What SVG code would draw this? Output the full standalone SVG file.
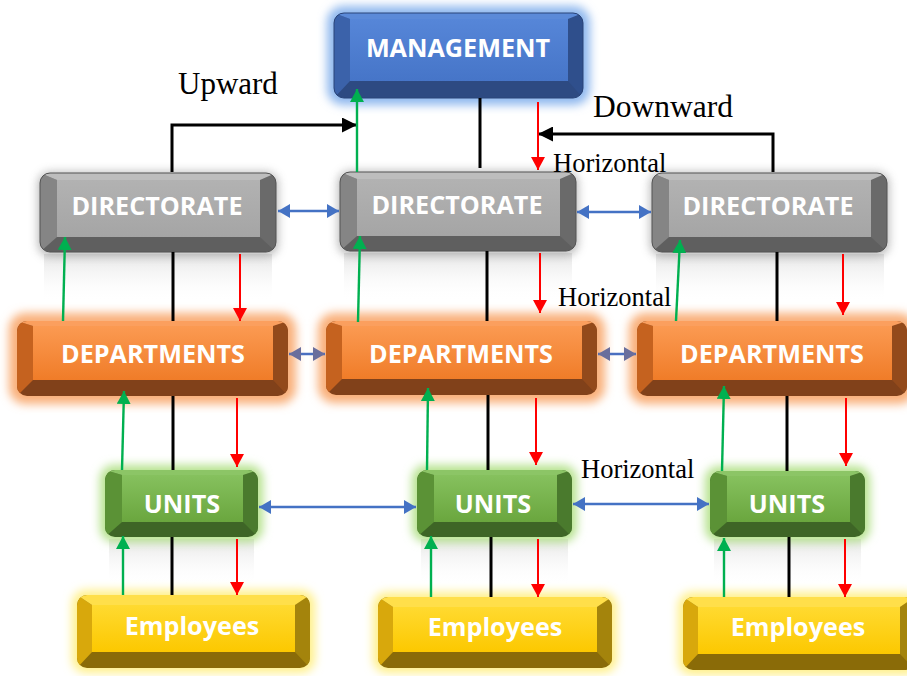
<svg xmlns="http://www.w3.org/2000/svg" width="907" height="676" viewBox="0 0 907 676">
<defs>
<style>
.lbl{font-family:"Open Sans","Liberation Sans",Arial,sans-serif;font-weight:bold;font-size:25.2px;fill:#ffffff;text-anchor:middle}
.cap{font-family:"Liberation Serif","Times New Roman",serif;fill:#000000}
.blk{stroke:#000;stroke-width:3;fill:none}
.grn{stroke:#00b050;stroke-width:2.4;fill:none;marker-end:url(#mg)}
.red{stroke:#ff0000;stroke-width:2;fill:none;marker-end:url(#mr)}
.blu{stroke:#4472c4;stroke-width:2.5;fill:none;marker-start:url(#mb);marker-end:url(#mb)}
.blu2{stroke:#4a6fc0;stroke-width:2.5;fill:none;marker-start:url(#mp);marker-end:url(#mp)}
.glow{filter:url(#blur)}
</style>
<filter id="blur" x="-20%" y="-40%" width="140%" height="180%"><feGaussianBlur stdDeviation="5"/></filter>
<clipPath id="cM" clipPathUnits="objectBoundingBox"><rect x="0" y="0" width="1" height="1" rx="0.04" ry="0.118"/></clipPath>
<clipPath id="cD" clipPathUnits="objectBoundingBox"><rect x="0" y="0" width="1" height="1" rx="0.042" ry="0.127"/></clipPath>
<clipPath id="cP" clipPathUnits="objectBoundingBox"><rect x="0" y="0" width="1" height="1" rx="0.037" ry="0.133"/></clipPath>
<clipPath id="cU" clipPathUnits="objectBoundingBox"><rect x="0" y="0" width="1" height="1" rx="0.065" ry="0.15"/></clipPath>
<clipPath id="cE" clipPathUnits="objectBoundingBox"><rect x="0" y="0" width="1" height="1" rx="0.043" ry="0.14"/></clipPath>
<linearGradient id="gM" x1="0" y1="0" x2="0" y2="1"><stop offset="0" stop-color="#5686d8"/><stop offset="1" stop-color="#4675c8"/></linearGradient>
<linearGradient id="gD" x1="0" y1="0" x2="0" y2="1"><stop offset="0" stop-color="#b2b2b2"/><stop offset="1" stop-color="#a5a5a5"/></linearGradient>
<linearGradient id="gP" x1="0" y1="0" x2="0" y2="1"><stop offset="0" stop-color="#fb9a52"/><stop offset="1" stop-color="#f07c28"/></linearGradient>
<linearGradient id="gU" x1="0" y1="0" x2="0" y2="1"><stop offset="0" stop-color="#86c15e"/><stop offset="1" stop-color="#6aa63e"/></linearGradient>
<linearGradient id="gE" x1="0" y1="0" x2="0" y2="1"><stop offset="0" stop-color="#ffda30"/><stop offset="1" stop-color="#fcc800"/></linearGradient>
<linearGradient id="gR" x1="0" y1="0" x2="0" y2="1"><stop offset="0" stop-color="#d0d0d0" stop-opacity="0.55"/><stop offset="1" stop-color="#ffffff" stop-opacity="0"/></linearGradient>
<marker id="mg" markerUnits="userSpaceOnUse" markerWidth="13" markerHeight="14" refX="13" refY="7" orient="auto"><path d="M0,0 L13,7 L0,14 z" fill="#00b050"/></marker>
<marker id="mr" markerUnits="userSpaceOnUse" markerWidth="13" markerHeight="14" refX="13" refY="7" orient="auto"><path d="M0,0 L13,7 L0,14 z" fill="#ff0000"/></marker>
<marker id="mk" markerUnits="userSpaceOnUse" markerWidth="15" markerHeight="15" refX="15" refY="7.5" orient="auto"><path d="M0,0 L15,7.5 L0,15 z" fill="#000"/></marker>
<marker id="mb" markerUnits="userSpaceOnUse" markerWidth="12" markerHeight="14" refX="12" refY="7" orient="auto-start-reverse"><path d="M0,0 L12,7 L0,14 z" fill="#4472c4"/></marker>
<marker id="mp" markerUnits="userSpaceOnUse" markerWidth="12" markerHeight="14" refX="12" refY="7" orient="auto-start-reverse"><path d="M0,0 L12,7 L0,14 z" fill="#6a6e9c"/></marker>
</defs>
<rect width="907" height="676" fill="#ffffff"/>

<g id="reflections">
<rect x="44" y="254" width="228" height="48" fill="url(#gR)"/>
<rect x="344" y="253" width="228" height="48" fill="url(#gR)"/>
<rect x="656" y="254" width="228" height="48" fill="url(#gR)"/>
<rect x="109" y="539" width="145" height="46" fill="url(#gR)"/>
<rect x="421" y="539" width="147" height="46" fill="url(#gR)"/>
<rect x="714" y="539" width="147" height="46" fill="url(#gR)"/>
</g>

<g id="management">
<rect class="glow" x="327" y="6" width="263" height="99" rx="16" fill="#8fb8ee"/>
<g clip-path="url(#cM)">
<rect x="334" y="13" width="249" height="85" fill="#2d4a82"/>
<polygon points="334,13 350,19 350,81 334,98" fill="#3b62aa"/>
<polygon points="583,13 568,19 568,81 583,98" fill="#2f4f8c"/>
<polygon points="334,13 583,13 568,19 350,19" fill="#5b8ad8"/>
<rect x="350" y="19" width="218" height="62" fill="url(#gM)"/>
</g>
<rect x="334" y="13" width="249" height="85" rx="10" fill="none" stroke="#2a4478" stroke-width="1"/>
<text class="lbl" x="458" y="57">MANAGEMENT</text>
</g>

<g id="dir1">
<rect class="glow" x="38" y="172" width="240" height="84" rx="12" fill="#9a9a9a" opacity="0.7"/>
<g clip-path="url(#cD)">
<rect x="40" y="173" width="236" height="79" fill="#5f5f5f"/>
<polygon points="40,173 57,180 57,237 40,252" fill="#858585"/>
<polygon points="276,173 260,180 260,237 276,252" fill="#6a6a6a"/>
<polygon points="40,173 276,173 260,180 57,180" fill="#bdbdbd"/>
<rect x="57" y="180" width="203" height="57" fill="url(#gD)"/>
</g>
<rect x="40" y="173" width="236" height="79" rx="10" fill="none" stroke="#555" stroke-width="1"/>
<text class="lbl" x="157" y="215">DIRECTORATE</text>
</g>

<g id="dir2">
<rect class="glow" x="338" y="171" width="240" height="84" rx="12" fill="#9a9a9a" opacity="0.7"/>
<g clip-path="url(#cD)">
<rect x="340" y="172" width="236" height="79" fill="#5f5f5f"/>
<polygon points="340,172 357,179 357,236 340,251" fill="#858585"/>
<polygon points="576,172 560,179 560,236 576,251" fill="#6a6a6a"/>
<polygon points="340,172 576,172 560,179 357,179" fill="#bdbdbd"/>
<rect x="357" y="179" width="203" height="57" fill="url(#gD)"/>
</g>
<rect x="340" y="172" width="236" height="79" rx="10" fill="none" stroke="#555" stroke-width="1"/>
<text class="lbl" x="457" y="214">DIRECTORATE</text>
</g>

<g id="dir3">
<rect class="glow" x="650" y="172" width="239" height="84" rx="12" fill="#9a9a9a" opacity="0.7"/>
<g clip-path="url(#cD)">
<rect x="652" y="173" width="235" height="79" fill="#5f5f5f"/>
<polygon points="652,173 669,180 669,237 652,252" fill="#858585"/>
<polygon points="887,173 871,180 871,237 887,252" fill="#6a6a6a"/>
<polygon points="652,173 887,173 871,180 669,180" fill="#bdbdbd"/>
<rect x="669" y="180" width="202" height="57" fill="url(#gD)"/>
</g>
<rect x="652" y="173" width="235" height="79" rx="10" fill="none" stroke="#555" stroke-width="1"/>
<text class="lbl" x="768" y="215">DIRECTORATE</text>
</g>

<g id="dept1">
<rect class="glow" x="9" y="313" width="287" height="91" rx="16" fill="#f9b07a"/>
<g clip-path="url(#cP)">
<rect x="17" y="321" width="271" height="75" fill="#81411a"/>
<polygon points="17,321 33,326 33,380 17,396" fill="#c5621f"/>
<polygon points="288,321 273,326 273,380 288,396" fill="#934a1b"/>
<polygon points="17,321 288,321 273,326 33,326" fill="#fb9f5e"/>
<rect x="33" y="326" width="240" height="54" fill="url(#gP)"/>
</g>
<text class="lbl" x="153" y="363">DEPARTMENTS</text>
</g>

<g id="dept2">
<rect class="glow" x="318" y="313" width="287" height="90" rx="16" fill="#f9b07a"/>
<g clip-path="url(#cP)">
<rect x="326" y="321" width="271" height="74" fill="#81411a"/>
<polygon points="326,321 342,326 342,379 326,395" fill="#c5621f"/>
<polygon points="597,321 582,326 582,379 597,395" fill="#934a1b"/>
<polygon points="326,321 597,321 582,326 342,326" fill="#fb9f5e"/>
<rect x="342" y="326" width="240" height="53" fill="url(#gP)"/>
</g>
<text class="lbl" x="461" y="363">DEPARTMENTS</text>
</g>

<g id="dept3">
<rect class="glow" x="629" y="313" width="286" height="91" rx="16" fill="#f9b07a"/>
<g clip-path="url(#cP)">
<rect x="637" y="321" width="270" height="75" fill="#81411a"/>
<polygon points="637,321 653,326 653,380 637,396" fill="#c5621f"/>
<polygon points="907,321 892,326 892,380 907,396" fill="#934a1b"/>
<polygon points="637,321 907,321 892,326 653,326" fill="#fb9f5e"/>
<rect x="653" y="326" width="239" height="54" fill="url(#gP)"/>
</g>
<text class="lbl" x="772" y="363">DEPARTMENTS</text>
</g>

<g id="unit1">
<rect class="glow" x="100" y="465" width="163" height="77" rx="14" fill="#b6e28e"/>
<g clip-path="url(#cU)">
<rect x="105" y="470" width="153" height="67" fill="#3e6526"/>
<polygon points="105,470 122,475 122,522 105,537" fill="#5b9236"/>
<polygon points="258,470 243,475 243,522 258,537" fill="#4a7a2d"/>
<polygon points="105,470 258,470 243,475 122,475" fill="#8cc566"/>
<rect x="122" y="475" width="121" height="47" fill="url(#gU)"/>
</g>
<text class="lbl" x="182" y="513">UNITS</text>
</g>

<g id="unit2">
<rect class="glow" x="412" y="465" width="165" height="77" rx="14" fill="#b6e28e"/>
<g clip-path="url(#cU)">
<rect x="417" y="470" width="155" height="67" fill="#3e6526"/>
<polygon points="417,470 434,475 434,522 417,537" fill="#5b9236"/>
<polygon points="572,470 557,475 557,522 572,537" fill="#4a7a2d"/>
<polygon points="417,470 572,470 557,475 434,475" fill="#8cc566"/>
<rect x="434" y="475" width="123" height="47" fill="url(#gU)"/>
</g>
<text class="lbl" x="493" y="513">UNITS</text>
</g>

<g id="unit3">
<rect class="glow" x="705" y="466" width="165" height="76" rx="14" fill="#b6e28e"/>
<g clip-path="url(#cU)">
<rect x="710" y="471" width="155" height="66" fill="#3e6526"/>
<polygon points="710,471 727,476 727,522 710,537" fill="#5b9236"/>
<polygon points="865,471 850,476 850,522 865,537" fill="#4a7a2d"/>
<polygon points="710,471 865,471 850,476 727,476" fill="#8cc566"/>
<rect x="727" y="476" width="123" height="46" fill="url(#gU)"/>
</g>
<text class="lbl" x="787" y="513">UNITS</text>
</g>

<g id="emp1">
<rect class="glow" x="72" y="590" width="243" height="83" rx="14" fill="#fff08a"/>
<g clip-path="url(#cE)">
<rect x="77" y="595" width="233" height="73" fill="#8a6b08"/>
<polygon points="77,595 92,605 92,652 77,668" fill="#d8a80c"/>
<polygon points="310,595 295,605 295,652 310,668" fill="#a4840c"/>
<polygon points="77,595 310,595 295,605 92,605" fill="#ffdf4a"/>
<rect x="92" y="605" width="203" height="47" fill="url(#gE)"/>
</g>
<text class="lbl" x="192" y="635">Employees</text>
</g>

<g id="emp2">
<rect class="glow" x="373" y="592" width="244" height="81" rx="14" fill="#fff08a"/>
<g clip-path="url(#cE)">
<rect x="378" y="597" width="234" height="71" fill="#8a6b08"/>
<polygon points="378,597 393,607 393,652 378,668" fill="#d8a80c"/>
<polygon points="612,597 597,607 597,652 612,668" fill="#a4840c"/>
<polygon points="378,597 612,597 597,607 393,607" fill="#ffdf4a"/>
<rect x="393" y="607" width="204" height="45" fill="url(#gE)"/>
</g>
<text class="lbl" x="495" y="636">Employees</text>
</g>

<g id="emp3">
<rect class="glow" x="678" y="592" width="242" height="83" rx="14" fill="#fff08a"/>
<g clip-path="url(#cE)">
<rect x="683" y="597" width="232" height="73" fill="#8a6b08"/>
<polygon points="683,597 698,607 698,654 683,670" fill="#d8a80c"/>
<polygon points="915,597 900,607 900,654 915,670" fill="#a4840c"/>
<polygon points="683,597 915,597 900,607 698,607" fill="#ffdf4a"/>
<rect x="698" y="607" width="202" height="47" fill="url(#gE)"/>
</g>
<text class="lbl" x="798" y="636">Employees</text>
</g>

<g id="connectors">
<line class="blk" x1="480" y1="98" x2="480" y2="168"/>
<path class="blk" d="M172,172 V125 H357" marker-end="url(#mk)"/>
<path class="blk" d="M773,172 V134 H538" marker-end="url(#mk)"/>
<line class="blk" x1="173" y1="252" x2="173" y2="321"/>
<line class="blk" x1="487" y1="251" x2="487" y2="321"/>
<line class="blk" x1="777" y1="252" x2="777" y2="321"/>
<line class="blk" x1="173" y1="396" x2="173" y2="470"/>
<line class="blk" x1="488" y1="395" x2="488" y2="470"/>
<line class="blk" x1="787" y1="396" x2="787" y2="471"/>
<line class="blk" x1="172" y1="537" x2="172" y2="595"/>
<line class="blk" x1="491" y1="537" x2="491" y2="597"/>
<line class="blk" x1="789" y1="537" x2="789" y2="597"/>
<line class="grn" x1="357" y1="172" x2="357" y2="89"/>
<line class="grn" x1="63" y1="321" x2="65" y2="237"/>
<line class="grn" x1="358" y1="322" x2="360" y2="236"/>
<line class="grn" x1="676" y1="321" x2="680" y2="240"/>
<line class="grn" x1="122" y1="470" x2="124" y2="391"/>
<line class="grn" x1="427" y1="470" x2="428" y2="388"/>
<line class="grn" x1="722" y1="471" x2="724" y2="386"/>
<line class="grn" x1="123" y1="595" x2="123" y2="536"/>
<line class="grn" x1="431" y1="597" x2="431" y2="536"/>
<line class="grn" x1="724" y1="597" x2="724" y2="538"/>
<line class="red" x1="538" y1="102" x2="538" y2="170"/>
<line class="red" x1="240" y1="254" x2="240" y2="321"/>
<line class="red" x1="540" y1="253" x2="540" y2="313"/>
<line class="red" x1="843" y1="254" x2="843" y2="315"/>
<line class="red" x1="237" y1="398" x2="237" y2="467"/>
<line class="red" x1="536" y1="398" x2="536" y2="465"/>
<line class="red" x1="846" y1="398" x2="846" y2="466"/>
<line class="red" x1="237" y1="539" x2="237" y2="595"/>
<line class="red" x1="538" y1="539" x2="538" y2="597"/>
<line class="red" x1="845" y1="539" x2="845" y2="597"/>
<line class="blu" x1="278" y1="211" x2="339" y2="211"/>
<line class="blu" x1="577" y1="212" x2="651" y2="212"/>
<line class="blu2" x1="289" y1="354" x2="325" y2="354"/>
<line class="blu2" x1="598" y1="354" x2="636" y2="354"/>
<line class="blu" x1="259" y1="507" x2="416" y2="507"/>
<line class="blu" x1="573" y1="504" x2="709" y2="504"/>
</g>

<g id="labels">
<text class="cap" x="178" y="94" font-size="31">Upward</text>
<text class="cap" x="593" y="117" font-size="31.5">Downward</text>
<text class="cap" x="553" y="172" font-size="26.5">Horizontal</text>
<text class="cap" x="558" y="306" font-size="26.5">Horizontal</text>
<text class="cap" x="581" y="478" font-size="26.5">Horizontal</text>
</g>
</svg>
